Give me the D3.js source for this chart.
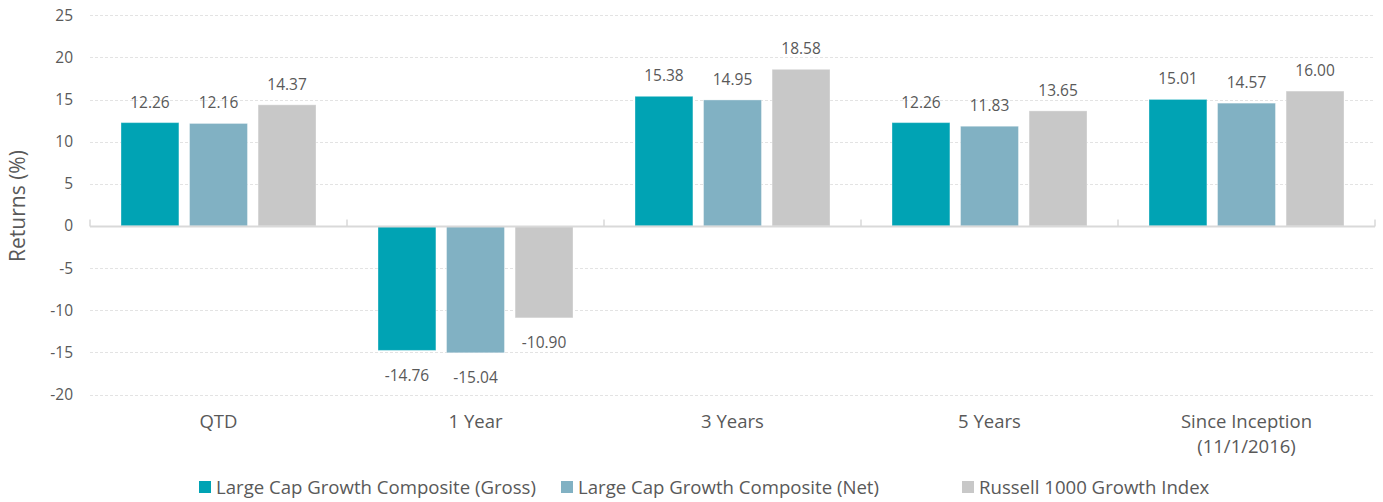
<!DOCTYPE html>
<html><head><meta charset="utf-8">
<script src="https://cdn.jsdelivr.net/npm/d3@7/dist/d3.min.js"></script>
<style>body{margin:0;background:#fff}svg{display:block}text{font-family:"Open Sans",Lato,sans-serif;fill:#595959}</style>
</head><body><svg id="c" width="1383" height="502"></svg>
<script>
const categories = ["QTD","1 Year","3 Years","5 Years","Since Inception\n(11/1/2016)"];
const seriesNames = ["Large Cap Growth Composite (Gross)","Large Cap Growth Composite (Net)","Russell 1000 Growth Index"];
const gross = [12.26,-14.76,15.38,12.26,15.01];
const net = [12.16,-15.04,14.95,11.83,14.57];
const russell = [14.37,-10.90,18.58,13.65,16.00];
const yTicks = [-20,-15,-10,-5,0,5,10,15,20,25];
const colors = ["#00a3b4","#81b1c3","#c8c8c8"];
const series = [gross,net,russell];

(function(){
const svg = d3.select("#c");
const pl=90,pr=1375,pt=15.2,pb=394.6;
const y = d3.scaleLinear().domain([-20,25]).range([pb,pt]);
const x0 = d3.scaleBand().domain(categories).range([pl,pr]).paddingInner(0).paddingOuter(0);
const x1 = d3.scaleBand().domain([0,1,2]).range([31,x0.bandwidth()-31]).paddingInner(0.155);

svg.append("g").selectAll("line").data(yTicks.filter(d=>d!==0)).join("line")
 .attr("x1",pl).attr("x2",pr).attr("y1",d=>Math.round(y(d))+0.5).attr("y2",d=>Math.round(y(d))+0.5)
 .attr("stroke","#e3e3e3").attr("stroke-dasharray","3,2").attr("stroke-width",1);
svg.append("g").selectAll("text").data(yTicks).join("text")
 .attr("x",73).attr("y",d=>y(d)).attr("dy","0.35em").attr("text-anchor","end")
 .style("font-size","15.5px").text(d=>d);
svg.append("text").attr("transform","translate(25,206) rotate(-90)").attr("text-anchor","middle")
 .style("font-size","21px").text("Returns (%)");

const g = svg.append("g");
categories.forEach((c,i)=>{
  series.forEach((s,j)=>{
    const v=s[i];
    const bx=x0(c)+x1(j), bw=x1.bandwidth();
    g.append("rect").attr("x",bx).attr("width",bw)
     .attr("y",Math.min(y(v),y(0))).attr("height",Math.abs(y(v)-y(0)))
     .attr("fill",colors[j]).attr("stroke","rgba(255,255,255,0.35)").attr("stroke-width",1);
    g.append("text").attr("x",bx+bw/2).attr("y",v>=0?y(v)-15:y(v)+25)
     .attr("dy", v>=0?"0":"0.35em")
     .attr("text-anchor","middle").style("font-size","15.5px").text(v.toFixed(2));
  });
});

const z=Math.round(y(0))+0.5;
svg.append("line").attr("x1",pl).attr("x2",pr).attr("y1",z).attr("y2",z).attr("stroke","#d9d9d9").attr("stroke-width",2);
svg.append("g").selectAll("line").data(d3.range(categories.length+1)).join("line")
 .attr("x1",d=>pl+d*x0.bandwidth()).attr("x2",d=>pl+d*x0.bandwidth())
 .attr("y1",z-7).attr("y2",z).attr("stroke","#d9d9d9").attr("stroke-width",1.5);

categories.forEach(c=>{
  const t=svg.append("text").attr("x",x0(c)+x0.bandwidth()/2).attr("y",428).attr("text-anchor","middle").style("font-size","18.5px");
  c.split("\n").forEach((l,k)=>t.append("tspan").attr("x",x0(c)+x0.bandwidth()/2).attr("dy",k?"25":"0").text(l));
});

const lx=[199,561,962];
seriesNames.forEach((n,j)=>{
  svg.append("rect").attr("x",lx[j]).attr("y",481).attr("width",12).attr("height",12).attr("fill",colors[j]);
  svg.append("text").attr("x",lx[j]+17).attr("y",494).style("font-size","18.6px").text(n);
});
})();
</script></body></html>
